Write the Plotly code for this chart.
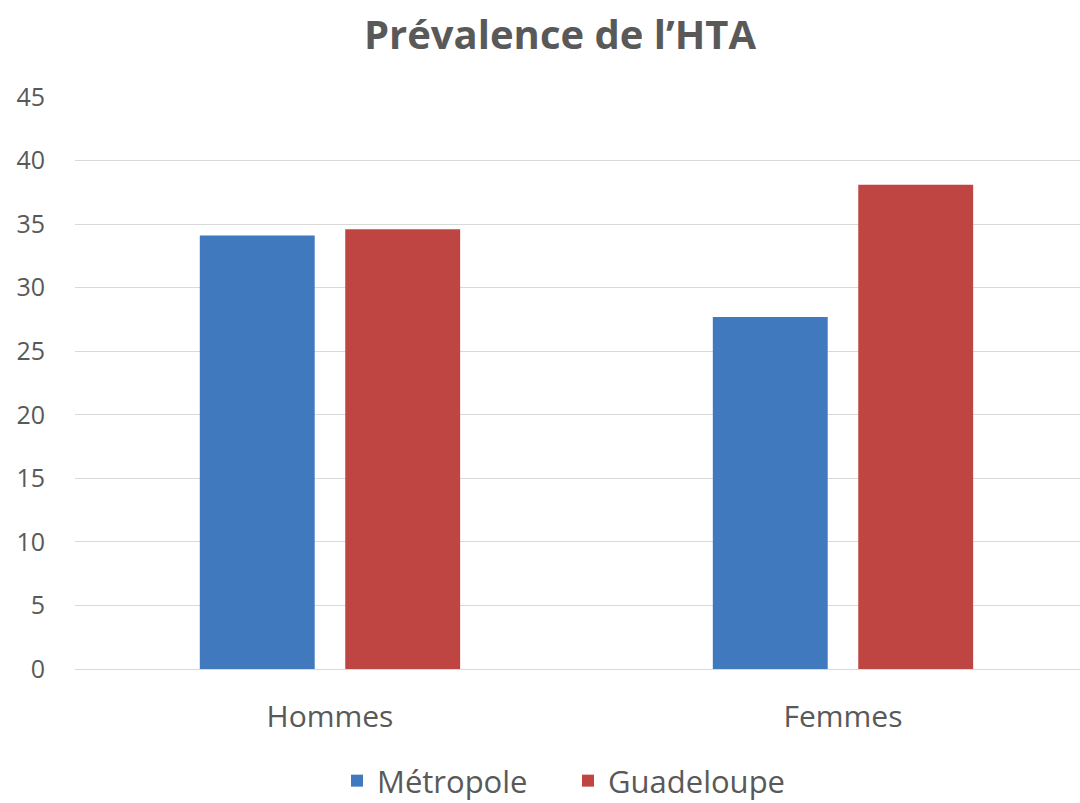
import plotly.graph_objects as go

categories = ["Hommes", "Femmes"]
metropole = [34.1, 27.7]
guadeloupe = [34.6, 38.1]
y_ticks = [0, 5, 10, 15, 20, 25, 30, 35, 40, 45]

FONT = "Open Sans, sans-serif"
GREY = "#595959"
W, H = 1080, 803

fig = go.Figure()
fig.add_trace(go.Bar(name="Métropole", x=categories, y=metropole,
                     marker=dict(color="#4179BE", line=dict(width=0))))
fig.add_trace(go.Bar(name="Guadeloupe", x=categories, y=guadeloupe,
                     marker=dict(color="#BF4543", line=dict(width=0))))

fig.update_layout(
    width=W, height=H,
    margin=dict(l=75, r=0, t=97, b=134),
    paper_bgcolor="white", plot_bgcolor="white",
    barmode="group", bargap=0.433, bargroupgap=0.21,
    font=dict(family=FONT, color=GREY),
    title=dict(text="<b>Prévalence de l’HTA</b>", x=560/W, xanchor="center",
               y=1 - 35/H, yanchor="middle",
               font=dict(size=40, color=GREY, family=FONT)),
    legend=dict(orientation="h", xref="container", yref="container",
                x=337/W, xanchor="left", y=1 - 781/H, yanchor="middle",
                font=dict(size=31, color=GREY), entrywidth=186,
                itemwidth=30, traceorder="normal"),
    showlegend=True,
)
fig.update_xaxes(type="category", range=[-0.497, 1.462], showgrid=False,
                 showline=False, ticks="", tickfont=dict(size=30, color=GREY),
                 ticklabelstandoff=27)
fig.update_yaxes(range=[0, 45], tickvals=y_ticks, showgrid=True,
                 gridcolor="#d9d9d9", gridwidth=1, zeroline=True,
                 zerolinecolor="#d9d9d9", zerolinewidth=1, showline=False,
                 tickfont=dict(size=25, color=GREY), ticklabelstandoff=29)

fig.write_html("out.html", config={"displayModeBar": False},
               post_script="document.body.style.margin='0';")
